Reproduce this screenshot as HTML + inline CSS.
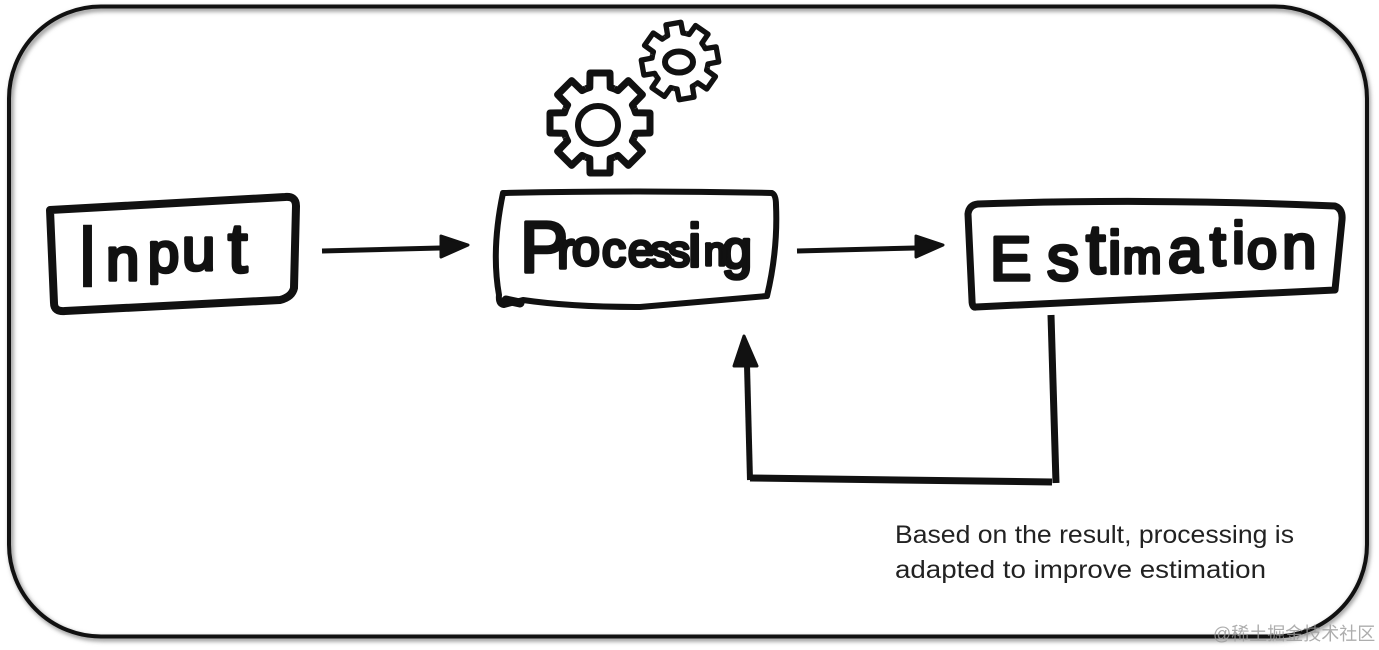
<!DOCTYPE html>
<html><head><meta charset="utf-8"><style>
html,body{margin:0;padding:0;background:#fff;width:1379px;height:650px;overflow:hidden}
svg{display:block}
.h{font-family:"Liberation Sans",sans-serif;fill:#111;stroke:#111;stroke-width:3.5;stroke-linejoin:round}
</style></head><body>
<svg width="1379" height="650" viewBox="0 0 1379 650" xmlns="http://www.w3.org/2000/svg">
<defs>
<filter id="b" x="-5%" y="-5%" width="110%" height="110%"><feGaussianBlur stdDeviation="2"/></filter>
<g id="tooth"><path d="M-14.2 -34.2L-10.2 -35.6L-10 -50L10 -50L10.2 -35.6L14.2 -34.2" fill="none" stroke="#111" stroke-width="7" stroke-linejoin="round"/></g>
<g id="gear">
<use href="#tooth"/><use href="#tooth" transform="rotate(45)"/><use href="#tooth" transform="rotate(90)"/>
<use href="#tooth" transform="rotate(135)"/><use href="#tooth" transform="rotate(180)"/><use href="#tooth" transform="rotate(225)"/>
<use href="#tooth" transform="rotate(270)"/><use href="#tooth" transform="rotate(315)"/>
</g>
</defs>
<rect width="1379" height="650" fill="#fff"/>
<rect x="11" y="9" width="1357" height="630" rx="92" ry="92" fill="none" stroke="#999" stroke-width="5" filter="url(#b)"/>
<rect x="9" y="6.500" width="1358" height="630" rx="92" ry="92" fill="none" stroke="#111" stroke-width="4"/>

<g transform="translate(600 123)"><use href="#gear"/></g>
<ellipse cx="598" cy="125" rx="20" ry="19" fill="none" stroke="#111" stroke-width="6"/>
<g transform="translate(680 61) rotate(-10) scale(.76)"><use href="#gear"/></g>
<ellipse cx="679" cy="62" rx="14" ry="10.500" fill="none" stroke="#111" stroke-width="6"/>

<g fill="none" stroke="#111" stroke-linecap="round" stroke-linejoin="round">
<path d="M50 210L285 197Q296 196 296 206L294 288Q292 297 280 300L65 311Q54 312 54 303L50 210Z" stroke-width="8"/>
<path d="M503 193Q640 190 772 193Q776 195 776 205Q778 250 767 296L640 307Q570 307 523 300L504 305Q498 304 499 295Q491 250 503 193Z" stroke-width="6"/>
<path d="M506 300L520 303" stroke-width="9"/>
<path d="M978 204Q1150 198 1335 206Q1343 209 1342 220L1335 290L976 307Q972 308 972 300L968 214Q969 205 978 204Z" stroke-width="7"/>
</g>

<g fill="#111" stroke="#111" stroke-linejoin="round">
<path d="M322 251L440 248" stroke-width="5" fill="none"/>
<path d="M441 236L468 245L441 257Z" stroke-width="3"/>
<path d="M797 251L915 248" stroke-width="5" fill="none"/>
<path d="M916 236L943 245L916 257Z" stroke-width="3"/>
<path d="M1051 315L1056 483" stroke-width="7" fill="none"/>
<path d="M1052 482L750 478" stroke-width="7" fill="none"/>
<path d="M750 480L747 365" stroke-width="6" fill="none"/>
<path d="M734 366L744 336L757 366Z" stroke-width="3"/>
</g>

<text class="h"><tspan x="75" y="287" font-size="90" stroke-width=".5">I</tspan><tspan x="106" y="280" font-size="60">n</tspan><tspan x="148" y="272" font-size="56">p</tspan><tspan x="182" y="270" font-size="60">u</tspan><tspan x="228" y="272" font-size="70">t</tspan></text>

<text class="h"><tspan x="520" y="272" font-size="72">P</tspan><tspan x="557" y="268" font-size="52">r</tspan><tspan x="572" y="265" font-size="50">o</tspan><tspan x="602" y="266" font-size="48">c</tspan><tspan x="628" y="266" font-size="46">e</tspan><tspan x="650" y="266" font-size="44">s</tspan><tspan x="668" y="266" font-size="44">s</tspan><tspan x="688" y="266" font-size="60">i</tspan><tspan x="704" y="265" font-size="40">n</tspan><tspan x="722" y="268" font-size="54">g</tspan></text>

<text class="h"><tspan x="990" y="280" font-size="62">E</tspan><tspan x="1047" y="280" font-size="64">s</tspan><tspan x="1086" y="273" font-size="70">t</tspan><tspan x="1108" y="273" font-size="60">i</tspan><tspan x="1123" y="273" font-size="46">m</tspan><tspan x="1168" y="272" font-size="62">a</tspan><tspan x="1210" y="265" font-size="56">t</tspan><tspan x="1232" y="263" font-size="58">i</tspan><tspan x="1247" y="268" font-size="54">o</tspan><tspan x="1282" y="268" font-size="62">n</tspan></text>

<g font-family="'Liberation Sans',sans-serif" font-size="25" fill="#222">
<text x="895" y="543" textLength="399" lengthAdjust="spacingAndGlyphs">Based on the result, processing is</text>
<text x="895" y="578" textLength="371" lengthAdjust="spacingAndGlyphs">adapted to improve estimation</text>
</g>
<text x="1213" y="640" font-family="'Liberation Sans','Noto Sans CJK SC',sans-serif" font-size="18" fill="#999" fill-opacity=".8">@稀土掘金技术社区</text>
</svg>
</body></html>
